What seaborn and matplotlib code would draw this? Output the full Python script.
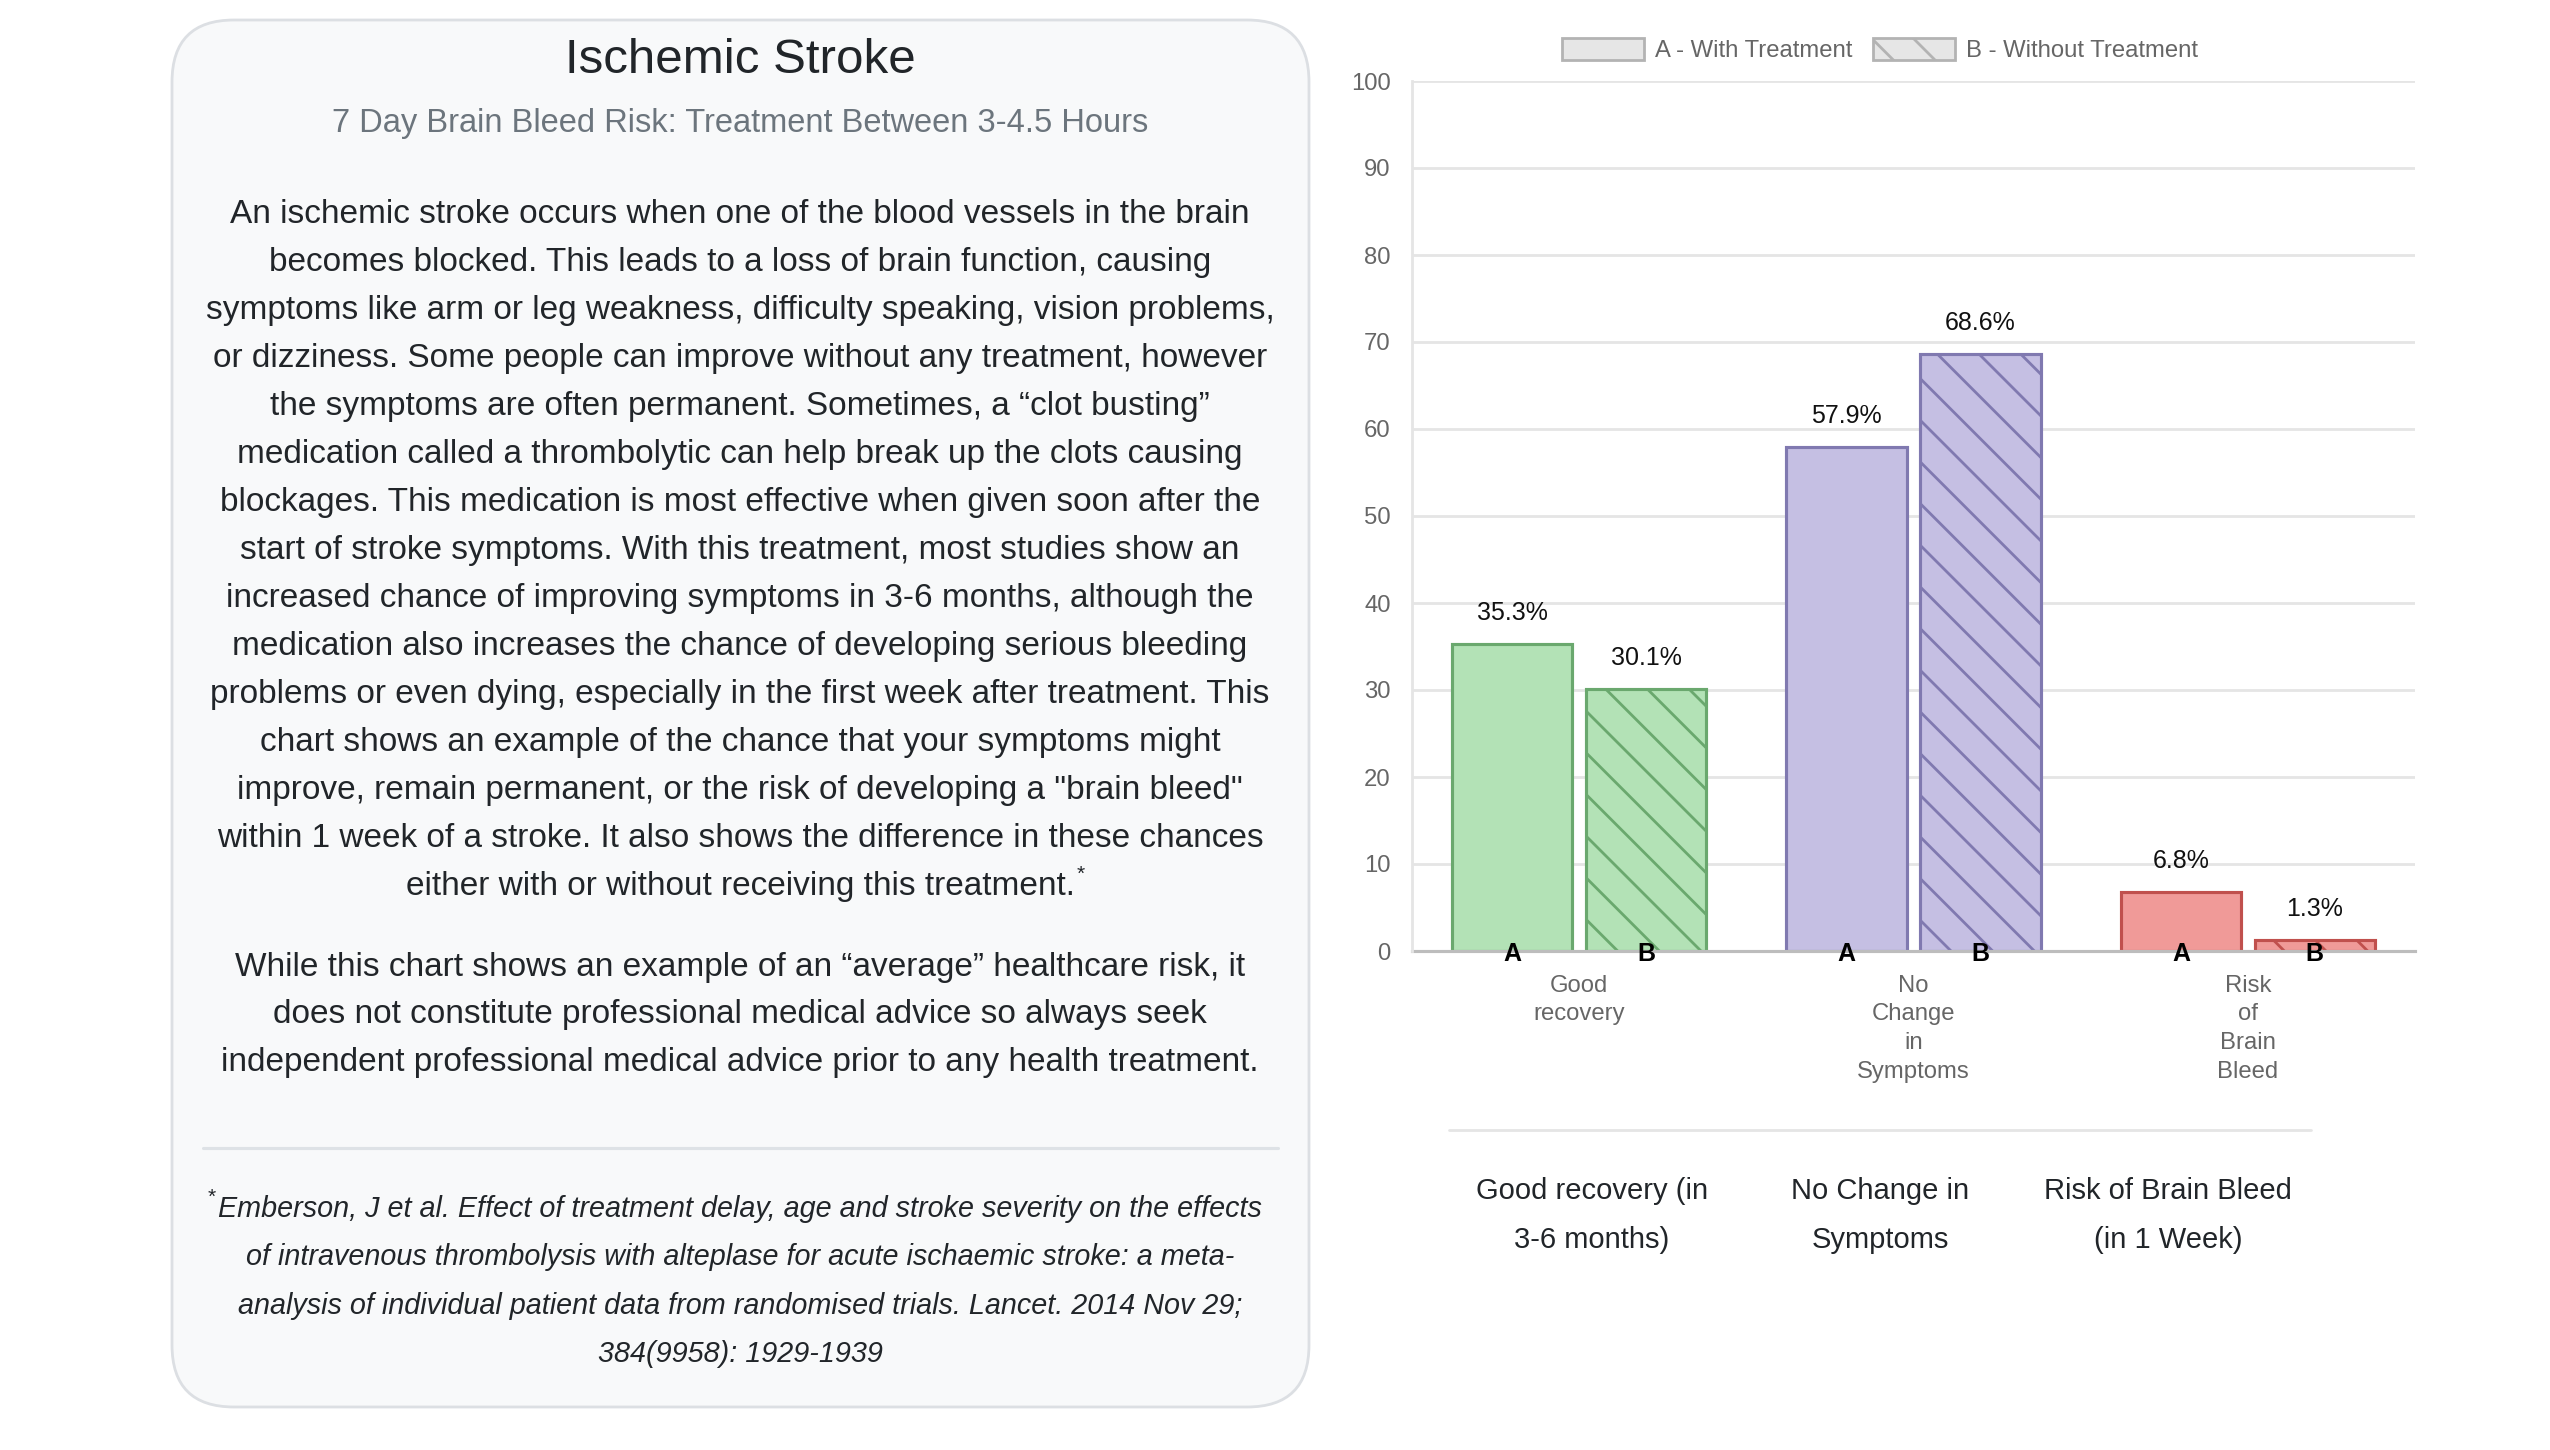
import matplotlib
matplotlib.use("Agg")
import matplotlib.pyplot as plt
import seaborn as sns
import pandas as pd
from matplotlib.patches import FancyBboxPatch, Patch

# ---------------- data ----------------
categories = ["Good\nrecovery", "No\nChange\nin\nSymptoms", "Risk\nof\nBrain\nBleed"]
groups = ["A - With Treatment", "B - Without Treatment"]
with_treatment = [35.3, 57.9, 6.8]
without_treatment = [30.1, 68.6, 1.3]
bar_letters = ["A", "B"]
y_ticks = [0, 10, 20, 30, 40, 50, 60, 70, 80, 90, 100]
bottom_labels = ["Good recovery (in\n3-6 months)", "No Change in\nSymptoms", "Risk of Brain Bleed\n(in 1 Week)"]
fill_colors = ["#b3e2b6", "#c5bfe3", "#f09a98"]
edge_colors = ["#6aa86e", "#8079b0", "#c0504d"]

title = "Ischemic Stroke"
subtitle = "7 Day Brain Bleed Risk: Treatment Between 3-4.5 Hours"
para1 = [
    "An ischemic stroke occurs when one of the blood vessels in the brain",
    "becomes blocked. This leads to a loss of brain function, causing",
    "symptoms like arm or leg weakness, difficulty speaking, vision problems,",
    "or dizziness. Some people can improve without any treatment, however",
    "the symptoms are often permanent. Sometimes, a \u201cclot busting\u201d",
    "medication called a thrombolytic can help break up the clots causing",
    "blockages. This medication is most effective when given soon after the",
    "start of stroke symptoms. With this treatment, most studies show an",
    "increased chance of improving symptoms in 3-6 months, although the",
    "medication also increases the chance of developing serious bleeding",
    "problems or even dying, especially in the first week after treatment. This",
    "chart shows an example of the chance that your symptoms might",
    "improve, remain permanent, or the risk of developing a \"brain bleed\"",
    "within 1 week of a stroke. It also shows the difference in these chances",
    "either with or without receiving this treatment.",
]
para2 = [
    "While this chart shows an example of an \u201caverage\u201d healthcare risk, it",
    "does not constitute professional medical advice so always seek",
    "independent professional medical advice prior to any health treatment.",
]
citation = [
    "Emberson, J et al. Effect of treatment delay, age and stroke severity on the effects",
    "of intravenous thrombolysis with alteplase for acute ischaemic stroke: a meta-",
    "analysis of individual patient data from randomised trials. Lancet. 2014 Nov 29;",
    "384(9958): 1929-1939",
]

# ---------------- style ----------------
sns.set_theme(style="white")
plt.rcParams["font.family"] = ["Liberation Sans", "DejaVu Sans"]
plt.rcParams["hatch.linewidth"] = 0.8

W, H, DPI = 2550, 1450, 250
fig = plt.figure(figsize=(W / DPI, H / DPI), dpi=DPI)
fig.patch.set_facecolor("white")

# background axes in pixel units (y downward)
bg = fig.add_axes([0, 0, 1, 1], zorder=0)
bg.set_xlim(0, W)
bg.set_ylim(H, 0)
bg.axis("off")

panel = FancyBboxPatch((172, 20), 1137, 1387, boxstyle="round,pad=0,rounding_size=62",
                       fc="#f8f9fa", ec="#dcdfe3", lw=0.8)
bg.add_patch(panel)

cx = 740
dark = "#212529"
bg.text(cx, 60, title, ha="center", va="center", fontsize=14.2, color=dark)
bg.text(cx, 123, subtitle, ha="center", va="center", fontsize=9.4, color="#6c757d")

body_fs = 9.6
y = 214
last = None
for line in para1:
    last = bg.text(cx, y, line, ha="center", va="center", fontsize=body_fs, color=dark)
    y += 48
y = 967
for line in para2:
    bg.text(cx, y, line, ha="center", va="center", fontsize=body_fs, color=dark)
    y += 48

bg.plot([203, 1278], [1148, 1148], color="#dee2e6", lw=0.9)

cit_fs = 8.3
y = 1209
first_cit = None
for line in citation:
    t = bg.text(cx, y, line, ha="center", va="center", fontsize=cit_fs, color=dark, style="italic")
    if first_cit is None:
        first_cit = t
    y += 48.3

fig.canvas.draw()
r = fig.canvas.get_renderer()
ext = last.get_window_extent(r)
bg.text(ext.x1 + 2, H - ext.y1 + 4, "*", ha="left", va="center", fontsize=6, color=dark)
ext = first_cit.get_window_extent(r)
bg.text(ext.x0 - 2, H - ext.y1 + 2, "*", ha="right", va="center", fontsize=6, color=dark)

# bottom table
bg.plot([1449, 2311], [1130, 1130], color="#e5e5e5", lw=0.8)
for xc, lab in zip([1592, 1880, 2168], bottom_labels):
    for k, ln in enumerate(lab.split("\n")):
        bg.text(xc, 1191 + 49 * k, ln, ha="center", va="center", fontsize=8.4, color=dark)

# ---------------- chart ----------------
ax = fig.add_axes([1412 / W, 1 - 951 / H, 1003 / W, 870 / H], zorder=2)
ax.set_facecolor("none")

df = pd.DataFrame({
    "category": categories * 2,
    "group": [groups[0]] * len(categories) + [groups[1]] * len(categories),
    "value": with_treatment + without_treatment,
})
sns.barplot(data=df, x="category", y="value", hue="group", ax=ax, width=0.8, gap=0.1,
            legend=False, saturation=1, errorbar=None)

for i, cont in enumerate(ax.containers):
    for j, p in enumerate(cont.patches):
        p.set_facecolor(fill_colors[j])
        p.set_edgecolor(edge_colors[j])
        p.set_linewidth(0.9)
        if i == 1:
            p.set_hatch("\\\\")
    ax.bar_label(cont, fmt="{:.1f}%", padding=5.5, fontsize=7.2, color="#111")
    for p in cont.patches:
        ax.text(p.get_x() + p.get_width() / 2, -0.3, bar_letters[i], ha="center", va="center",
                fontsize=7.2, fontweight="bold", color="black", zorder=6, clip_on=False)

ax.set_ylim(0, 100)
ax.set_xlim(-0.5, 2.5)
ax.set_yticks(y_ticks)
ax.set_xlabel("")
ax.set_ylabel("")
ax.yaxis.grid(True, color="#e5e5e5", lw=0.8)
ax.set_axisbelow(True)
for s in ["top", "right"]:
    ax.spines[s].set_visible(False)
ax.spines["left"].set_color("#e5e5e5")
ax.spines["left"].set_linewidth(0.8)
ax.spines["bottom"].set_color("#bdbdbd")
ax.spines["bottom"].set_linewidth(0.9)
ax.spines["bottom"].set_zorder(1)
ax.tick_params(axis="y", length=4.6, width=0.8, color="#e5e5e5", pad=1.5,
               labelsize=6.9, labelcolor="#666666")
ax.tick_params(axis="x", length=0, pad=6.8, labelsize=6.9, labelcolor="#666666")
for lbl in ax.get_xticklabels():
    lbl.set_linespacing(1.4)

handles = [
    Patch(facecolor="#e6e6e6", edgecolor="#b3b3b3", lw=0.8, label=groups[0]),
    Patch(facecolor="#e6e6e6", edgecolor="#b3b3b3", lw=0.8, hatch="\\\\", label=groups[1]),
]
fig.legend(handles=handles, loc="center", bbox_to_anchor=(1880 / W, 1 - 50 / H), ncol=2,
           frameon=False, fontsize=6.9, labelcolor="#666666", handlelength=3.4,
           handleheight=1.05, handletextpad=0.45, columnspacing=0.9)

fig.savefig("out.png", dpi=DPI, facecolor="white")
